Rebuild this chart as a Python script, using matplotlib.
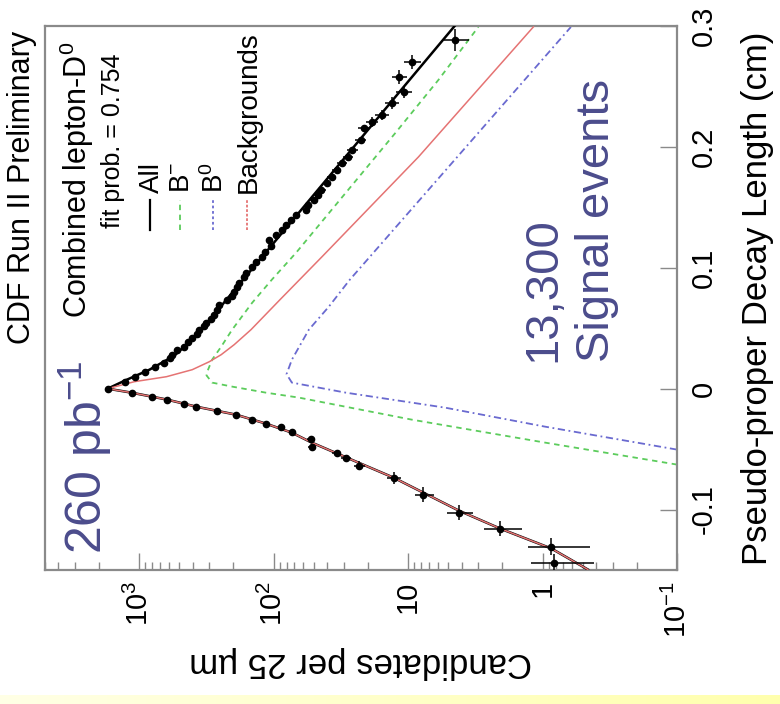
import numpy as np
import matplotlib
matplotlib.use("Agg")
from matplotlib import pyplot as plt
from matplotlib.ticker import FixedLocator, FixedFormatter, LogLocator, NullFormatter

plt.rcParams['font.family'] = ['Liberation Sans', 'DejaVu Sans']
plt.rcParams['mathtext.fontset'] = 'custom'
plt.rcParams['mathtext.rm'] = 'Liberation Sans'
plt.rcParams['mathtext.it'] = 'Liberation Sans:italic'
plt.rcParams['mathtext.default'] = 'regular'

# data points: decay length (cm) and candidates per 25 um
data_L = [-0.1438, -0.1306, -0.1157, -0.1025, -0.0876, -0.0736, -0.0636, -0.057, -0.053,
          -0.048, -0.042, -0.036, -0.032, -0.029, -0.0256, -0.0215, -0.0182, -0.0149,
          -0.0124, -0.009, -0.0066, -0.0033, 0.0,
          0.0058, 0.0099, 0.014, 0.0182, 0.0215, 0.025, 0.0281, 0.0322, 0.0347, 0.0385,
          0.0421, 0.0455, 0.0488, 0.0515, 0.0545, 0.058, 0.0612, 0.065, 0.0694, 0.0736,
          0.077, 0.0802, 0.084, 0.0876, 0.092, 0.0959, 0.1008, 0.105, 0.109, 0.113,
          0.118, 0.1231, 0.127, 0.1314, 0.135, 0.1397, 0.144, 0.148, 0.152, 0.1562,
          0.160, 0.1645, 0.170, 0.1752, 0.181, 0.1868, 0.192, 0.1975, 0.2058, 0.2157,
          0.2207, 0.2264, 0.2364, 0.2455, 0.2579, 0.2702, 0.2884]
data_N = [0.82, 0.86, 2.07, 4.2, 7.7, 12.8, 23, 29, 34,
          52, 53, 73, 88, 114, 144, 190, 262, 375,
          460, 615, 807, 1137, 1710,
          1279, 1079, 910, 767, 647, 590, 565, 519, 460, 430,
          402, 370, 356, 330, 316, 290, 276, 262, 254, 221,
          205, 196, 186, 180, 165, 160, 144, 135, 122, 116,
          104, 108, 96, 86, 81, 74, 68, 57, 55, 50,
          47, 44, 40, 37, 34, 31, 28, 26, 22.5, 21.4,
          18.6, 15.7, 13.2, 10.8, 11.7, 9.4, 4.45]
# half bin widths (cm)
data_halfw = [0.007, 0.007, 0.006, 0.006, 0.006, 0.005, 0.004] + [0.0025] * 66 + \
             [0.004, 0.004, 0.005, 0.005, 0.006, 0.006, 0.009]
events_per_unit = 5.0

# fit curves
neg_fit_L = [-0.1496, -0.1322, -0.1157, -0.1008, -0.086, -0.0736, -0.057, -0.0446,
             -0.0364, -0.0289, -0.0215, -0.0149, -0.0091, -0.0033, 0.0]
neg_fit_N = [0.46, 0.86, 2.07, 4.2, 7.7, 12.8, 28.6, 52, 73, 114, 190, 375, 615, 1137, 1710]

all_pos_L = [0.0066, 0.0157, 0.0273, 0.0446, 0.05, 0.1, 0.15, 0.2, 0.25, 0.3]
all_pos_N = [1280, 836, 546, 368, 336, 142, 60, 25.3, 10.7, 4.5]

bkg_pos_L = [0.0058, 0.0099, 0.0157, 0.0223, 0.0281, 0.0364, 0.0488, 0.0736, 0.109,
             0.1917, 0.2992]
bkg_pos_N = [1080, 625, 402, 300, 245, 196, 147, 89.5, 43.7, 8.36, 1.17]

bminus_L = [-0.0628, -0.0446, -0.0256, -0.0074, -0.0033, 0.0017, 0.005, 0.011, 0.014,
            0.024, 0.0347, 0.0488, 0.0711, 0.0901, 0.1124, 0.2116, 0.2554, 0.2992]
bminus_N = [0.1, 0.96, 9.4, 64.7, 114, 203, 286, 315, 311,
            286, 245, 203, 144, 103, 68, 12.4, 5.94, 3.0]

bzero_L = [-0.0504, -0.0314, -0.0157, -0.0033, 0.005, 0.012, 0.024, 0.0488, 0.0678,
           0.0901, 0.2116, 0.2992]
bzero_N = [0.1, 0.96, 5.3, 29, 73, 80, 73, 54.6, 38.8, 27.1, 3.0, 0.615]

x_ticks = [1000, 100, 10, 1, 0.1]
x_ticklabels = ['$10^{3}$', '$10^{2}$', '10', '1', '$10^{-1}$']
y_ticks = [-0.1, 0, 0.1, 0.2, 0.3]
y_ticklabels = ['-0.1', '0', '0.1', '0.2', '0.3']

W, H = 780, 704
fig = plt.figure(figsize=(W / 100, H / 100), dpi=100)

# yellow slide band at the bottom
band = fig.add_axes([0, 0, 1, 9 / H])
grad = np.linspace(0, 1, 256)
rgb = np.zeros((1, 256, 3))
rgb[0, :, 0] = 1.0
rgb[0, :, 1] = 1.0
rgb[0, :, 2] = 0.90 - 0.22 * grad
band.imshow(rgb, aspect='auto', extent=[0, 1, 0, 1])
band.axis('off')

def px(x, y):
    return x / W, 1 - y / H

l, b = px(45, 570)
r, t = px(677, 26)
ax = fig.add_axes([l, b, r - l, t - b])

frame = '#8a8a8a'
for s in ax.spines.values():
    s.set_color(frame)
    s.set_linewidth(1.6)

xerr = np.sqrt(np.array(data_N) / events_per_unit)
ax.errorbar(data_N, data_L, xerr=xerr, yerr=data_halfw, fmt='o', color='black',
            markersize=4.5, elinewidth=1.1, capsize=0, zorder=5)

ax.plot(neg_fit_N + all_pos_N, neg_fit_L + all_pos_L, color='black', lw=1.8, zorder=3)
ax.plot(neg_fit_N + bkg_pos_N, neg_fit_L + bkg_pos_L, color='#e57373', lw=1.1, zorder=4)
ax.plot(bminus_N, bminus_L, color='#5ccc5c', lw=1.3, linestyle=(0, (3, 2.5)), zorder=2)
ax.plot(bzero_N, bzero_L, color='#6a6ad0', lw=1.3, linestyle=(0, (4, 2, 1, 2)), zorder=2)

ax.set_xscale('log')
ax.set_xlim(5000, 0.1)
ax.set_ylim(-0.15, 0.3)

ax.xaxis.set_major_locator(FixedLocator(x_ticks))
ax.xaxis.set_major_formatter(FixedFormatter(x_ticklabels))
ax.xaxis.set_minor_locator(LogLocator(base=10, subs=np.arange(2, 10)))
ax.xaxis.set_minor_formatter(NullFormatter())
ax.tick_params(axis='x', which='major', direction='in', length=12, width=1.0,
               color=frame, labelsize=21, labelrotation=90, pad=8)
ax.tick_params(axis='x', which='minor', direction='in', length=6, width=1.0, color=frame)

ax.yaxis.tick_right()
ax.yaxis.set_label_position('right')
ax.set_yticks(y_ticks)
ax.set_yticklabels(y_ticklabels)
ax.tick_params(axis='y', which='major', direction='in', length=12, width=1.0,
               color=frame, labelsize=21, labelrotation=90, pad=9)
for lab in ax.get_yticklabels():
    lab.set_verticalalignment('center')

ax.set_xlabel('Candidates per 25 µm', fontsize=25, rotation=180, labelpad=6)
ax.set_ylabel('Pseudo-proper Decay Length (cm)', fontsize=25, rotation=90, labelpad=17)

# texts (figure pixel positions)
def ftext(x, y, s, **kw):
    fx, fy = px(x, y)
    fig.text(fx, fy, s, rotation=90, transform=fig.transFigure, **kw)

ftext(22, 344, 'CDF Run II Preliminary', fontsize=22, ha='center', va='bottom')
ftext(77, 318, 'Combined lepton-D$^{0}$', fontsize=22, ha='center', va='bottom')
ftext(113, 228, 'fit prob. = 0.754', fontsize=18, ha='center', va='bottom')

# legend
leg_x = [150, 180, 213, 247]
leg_lab = ['All', 'B$^{-}$', 'B$^{0}$', 'Backgrounds']
leg_sty = [dict(color='black', lw=1.6),
           dict(color='#5ccc5c', lw=1.3, linestyle=(0, (3, 2.5))),
           dict(color='#6a6ad0', lw=1.3, linestyle=(0, (1.5, 1.5))),
           dict(color='#e57373', lw=1.3, linestyle=(0, (1.5, 1)))]
for x, lab, sty in zip(leg_x, leg_lab, leg_sty):
    x0, y0 = px(x, 230)
    x1, y1 = px(x, 200)
    fig.add_artist(plt.Line2D([x0, x1], [y0, y1], transform=fig.transFigure, **sty))
    ftext(x + 2, 193, lab, fontsize=20, ha='center', va='bottom')

blue = '#4b4c8c'
ftext(85, 554, '260 pb$^{-1}$', fontsize=36, color=blue, ha='center', va='bottom')
ftext(570, 362, '13,300\nSignal events', fontsize=34, color=blue, ha='center', va='bottom',
      multialignment='left', linespacing=1.3)

fig.savefig('out.png', dpi=100)
